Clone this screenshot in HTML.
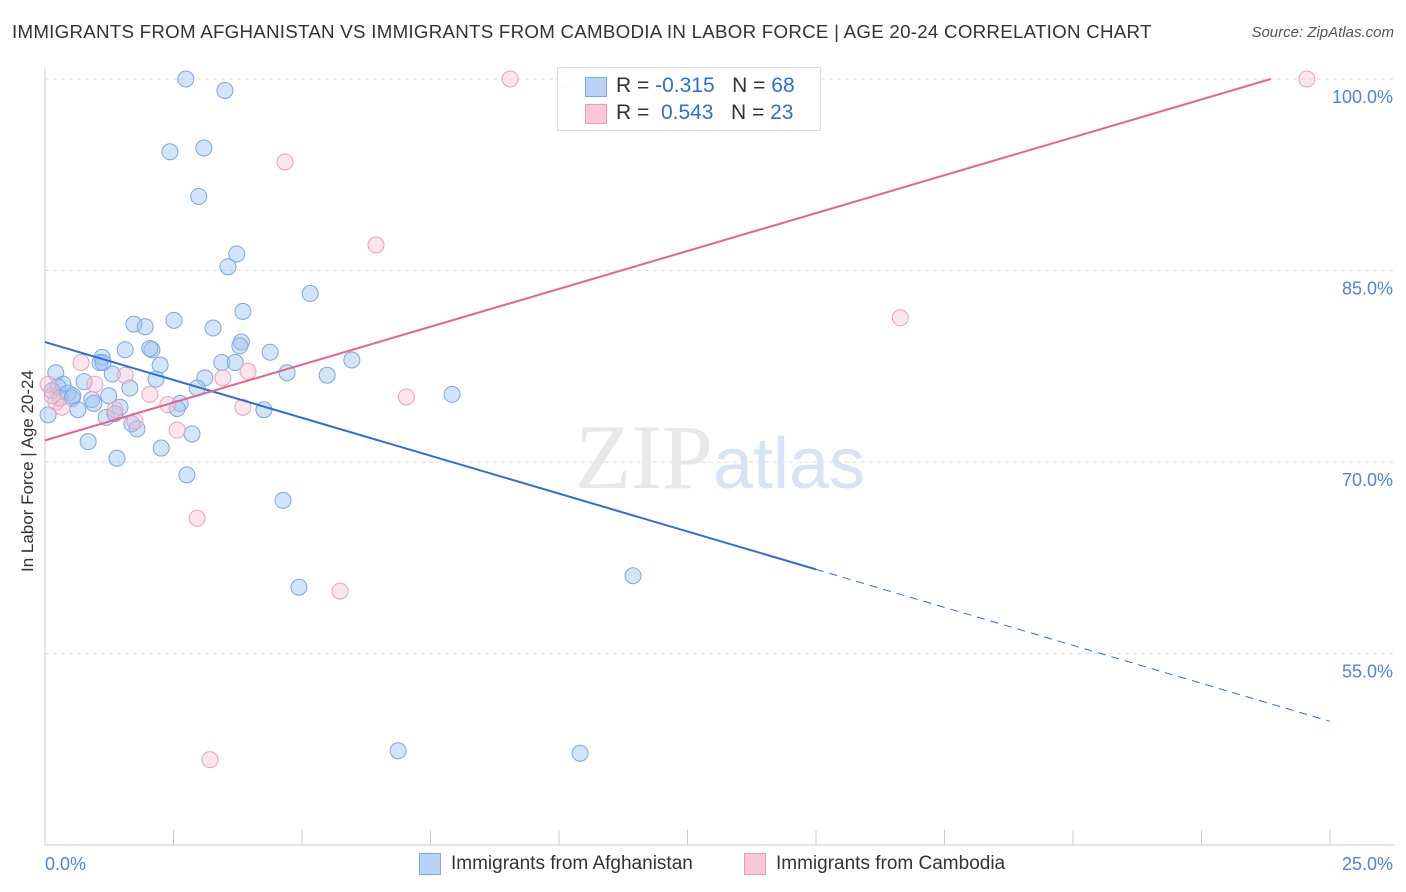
<!DOCTYPE html>
<html><head><meta charset="utf-8">
<style>
body{margin:0;background:#fff;font-family:"Liberation Sans",sans-serif;}
#wrap{position:relative;width:1406px;height:892px;overflow:hidden;}
.t{position:absolute;white-space:nowrap;}
</style></head>
<body>
<div id="wrap">
<div class="t" style="left:12px;top:22px;font-size:18px;letter-spacing:0.25px;transform:scaleX(1.04);transform-origin:0 0;color:#333;">IMMIGRANTS FROM AFGHANISTAN VS IMMIGRANTS FROM CAMBODIA IN LABOR FORCE | AGE 20-24 CORRELATION CHART</div>
<div class="t" style="right:12px;top:24px;font-size:15px;color:#555;font-style:italic;">Source: ZipAtlas.com</div>
<div class="t" style="left:18px;top:572px;font-size:17px;color:#333;transform:rotate(-90deg);transform-origin:0 0;">In Labor Force | Age 20-24</div>
<svg id="svg" width="1406" height="892" style="position:absolute;left:0;top:0"></svg>
<div class="t" style="left:557px;top:67px;width:262px;height:62px;border:1px solid #ddd;background:rgba(255,255,255,0.9);">
 <div style="position:absolute;left:27px;top:9px;width:20px;height:18px;background:#b8d3f5;border:1px solid #7aa7e6;"></div>
 <div class="t" style="left:58px;top:6px;font-size:21px;color:#333;">R = <span style="color:#2d6fd6">-0.315</span>&nbsp;&nbsp;&nbsp;N = <span style="color:#2d6fd6">68</span></div>
 <div style="position:absolute;left:27px;top:36px;width:20px;height:18px;background:#f9c8d6;border:1px solid #ee9ab4;"></div>
 <div class="t" style="left:58px;top:33px;font-size:21px;color:#333;">R = &nbsp;<span style="color:#2d6fd6">0.543</span>&nbsp;&nbsp;&nbsp;N = <span style="color:#2d6fd6">23</span></div>
</div>
<div style="position:absolute;left:419px;top:853px;width:20px;height:20px;background:#b8d3f5;border:1px solid #7aa7e6;"></div>
<div class="t" style="left:451px;top:853px;font-size:19px;color:#333;">Immigrants from Afghanistan</div>
<div style="position:absolute;left:744px;top:853px;width:20px;height:20px;background:#f9c8d6;border:1px solid #ee9ab4;"></div>
<div class="t" style="left:776px;top:853px;font-size:19px;color:#333;">Immigrants from Cambodia</div>
</div>
<script>
const yTicks=[100,85,70,55];
const yTickLabels=["100.0%","85.0%","70.0%","55.0%"];
const xTickLabels=["0.0%","25.0%"];
const blueX=[2.74,3.5,2.43,3.09,2.99,3.73,3.56,5.16,3.85,1.73,1.95,2.51,3.27,3.82,1.56,2.08,1.11,1.07,2.24,3.44,3.7,4.38,5.97,4.71,5.49,0.21,0.35,0.76,1.31,2.16,3.11,1.65,2.96,0.25,0.14,0.45,0.53,0.91,1.24,0.95,0.64,1.46,2.63,2.57,4.26,7.92,1.19,1.36,1.69,1.79,2.86,0.06,0.84,2.26,1.4,2.76,4.63,4.94,11.44,6.87,10.41,0.29,0.54,1.13,2.04,3.79];
const blueY=[100,99.1,94.3,94.6,90.8,86.3,85.3,83.2,81.8,80.8,80.6,81.1,80.5,79.4,78.8,78.8,78.2,77.8,77.6,77.8,77.8,78.6,78,77,76.8,77,76.1,76.3,76.9,76.5,76.6,75.8,75.8,75.9,75.6,75.4,75,74.9,75.2,74.6,74.1,74.3,74.6,74.2,74.1,75.3,73.5,73.8,73,72.6,72.2,73.7,71.6,71.1,70.3,69,67,60.2,61.1,47.4,47.2,75,75.2,77.8,78.9,79.1];
const pinkX=[9.05,10.12,24.55,4.67,6.44,16.64,0.7,1.56,0.97,3.46,3.95,2.04,2.39,3.85,7.03,0.21,0.33,1.36,1.75,2.57,2.96,5.74,3.21,0.14,0.06];
const pinkY=[100,100,100,93.5,87,81.3,77.8,76.8,76.1,76.6,77.1,75.3,74.5,74.3,75.1,74.7,74.3,74.1,73.2,72.5,65.6,59.9,46.7,75.2,76.1];
const blueLine=[0,79.4,15,61.6,25,49.7];
const pinkLine=[0,71.7,23.85,100];
const NS="http://www.w3.org/2000/svg";
const svg=document.getElementById('svg');
const X=v=>45+v/25*1285;
const Y=v=>79+(100-v)*12.77;
function mk(t,a){const e=document.createElementNS(NS,t);for(const k in a)e.setAttribute(k,a[k]);svg.appendChild(e);return e;}
yTicks.forEach((v,i)=>{
 const g=mk('line',{x1:45,x2:1395,y1:Y(v),y2:Y(v),stroke:'#ddd','stroke-dasharray':'4,4'});
 
 
 const t=mk('text',{x:1393,y:Y(v)+24,'text-anchor':'end','font-size':18,fill:'#4a86e0','font-family':'Liberation Sans, sans-serif'});
 t.textContent=yTickLabels[i];
 
 
});
const ax=mk('line',{x1:45,x2:1395,y1:845,y2:845,stroke:'#ccc'});


const ay=mk('line',{x1:45,x2:45,y1:68,y2:845,stroke:'#ccc'});


for(let i=0;i<=10;i++){
 const tk=mk('line',{x1:X(i*2.5),x2:X(i*2.5),y1:830,y2:845,stroke:'#ccc'});
 
 
}
xTickLabels.forEach((l,i)=>{
 const t=mk('text',{x:i?1393:45,y:870,'text-anchor':i?'end':'start','font-size':18,fill:'#4a86e0','font-family':'Liberation Sans, sans-serif'});
 t.textContent=l;
 
 
});
const wm=mk('text',{x:720,y:488,'text-anchor':'middle','font-size':92,'font-family':'Liberation Serif, serif',fill:'#e8e8e8'});
wm.innerHTML='ZIP<tspan font-family="Liberation Sans, sans-serif" font-size="72" fill="#d6e4f5">atlas</tspan>';


blueX.forEach((v,i)=>{
 const c=mk('circle',{cx:X(v),cy:Y(blueY[i]),r:8,fill:'rgba(160,195,240,0.45)',stroke:'#7aa7e6','stroke-width':1});
 
 
});
pinkX.forEach((v,i)=>{
 const c=mk('circle',{cx:X(v),cy:Y(pinkY[i]),r:8,fill:'rgba(248,190,208,0.4)',stroke:'#f0a0ba','stroke-width':1});
 
 
});
const bl=mk('line',{x1:X(blueLine[0]),y1:Y(blueLine[1]),x2:X(blueLine[2]),y2:Y(blueLine[3]),stroke:'#2d6fd6','stroke-width':2});


const bd=mk('line',{x1:X(blueLine[2]),y1:Y(blueLine[3]),x2:X(blueLine[4]),y2:Y(blueLine[5]),stroke:'#2d6fd6','stroke-width':1,'stroke-dasharray':'8,6'});


const pl=mk('line',{x1:X(pinkLine[0]),y1:Y(pinkLine[1]),x2:X(pinkLine[2]),y2:Y(pinkLine[3]),stroke:'#e46590','stroke-width':2});


</script>
</body></html>
